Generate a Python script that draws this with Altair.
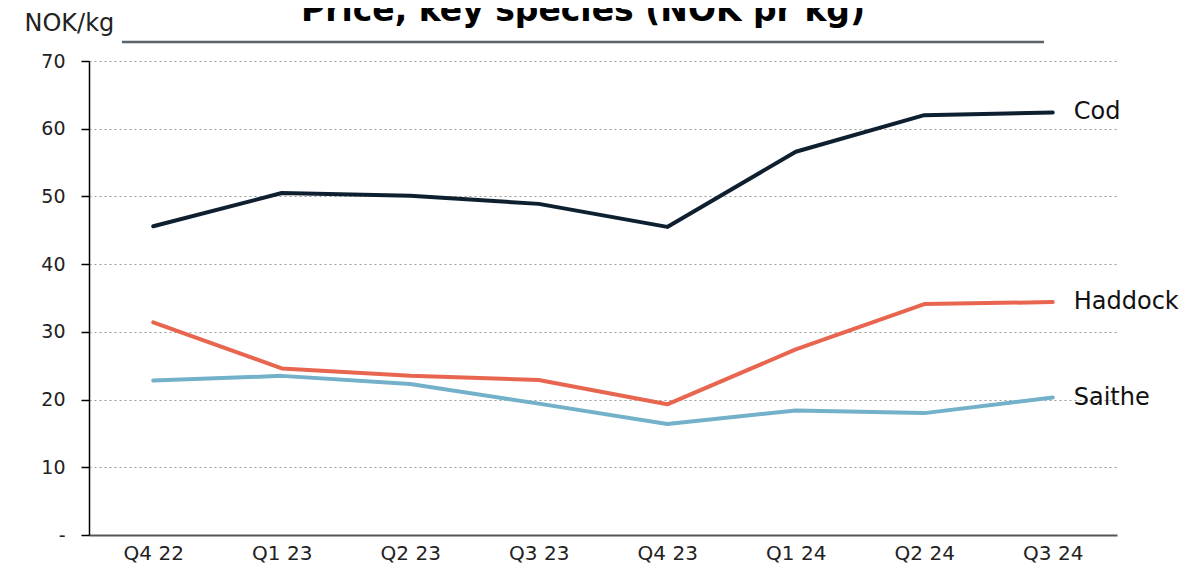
import altair as alt
import pandas as pd

quarters = ["Q4 22", "Q1 23", "Q2 23", "Q3 23", "Q4 23", "Q1 24", "Q2 24", "Q3 24"]
cod = [45.6, 50.5, 50.1, 48.9, 45.5, 56.6, 62.0, 62.4]
haddock = [31.4, 24.6, 23.5, 22.9, 19.3, 27.4, 34.1, 34.4]
saithe = [22.8, 23.5, 22.3, 19.4, 16.4, 18.4, 18.0, 20.3]
species = ["Cod", "Haddock", "Saithe"]
colors = ["#0e2030", "#e8664f", "#72b1c9"]
y_ticks = [0, 10, 20, 30, 40, 50, 60, 70]
title_text = "Price, key species (NOK pr kg)"

rows = []
for name, vals in zip(species, [cod, haddock, saithe]):
    for q, v in zip(quarters, vals):
        rows.append({"quarter": q, "price": v, "species": name})
df = pd.DataFrame(rows)
last = df[df["quarter"] == quarters[-1]]
single = pd.DataFrame({"title": [title_text]})

FONT = "DejaVu Sans"

x_enc = alt.X(
    "quarter:O",
    sort=quarters,
    scale=alt.Scale(type="point", padding=0.5),
    axis=alt.Axis(
        title=None, labelAngle=0, ticks=False, domainColor="#555555", domainWidth=2,
        labelFontSize=20, labelPadding=24, labelBaseline="alphabetic",
        labelColor="#222222", labelFont=FONT, grid=False,
    ),
)
y_enc = alt.Y(
    "price:Q",
    scale=alt.Scale(domain=[0, 70], nice=False),
    axis=alt.Axis(
        values=y_ticks, title="NOK/kg", titleAngle=0, titleX=-65, titleY=-38,
        titleAlign="left", titleBaseline="middle", titleFontWeight="normal",
        titleFontSize=24, titleFont=FONT, titleColor="#222222",
        labelExpr="datum.value == 0 ? '-\u2007\u2007' : datum.label",
        labelFontSize=19, labelFont=FONT, labelColor="#222222", labelPadding=16,
        tickSize=8, tickColor="#000000", tickWidth=1.5,
        domainColor="#000000", domainWidth=1.5,
        gridColor="#999999", gridDash=[2, 3], gridWidth=1,
    ),
)

color_enc = alt.Color(
    "species:N",
    scale=alt.Scale(domain=species, range=colors),
    legend=None,
)

lines = alt.Chart(df).mark_line(strokeWidth=4, strokeCap="round", strokeJoin="round").encode(
    x=x_enc, y=y_enc, color=color_enc
)

labels = alt.Chart(last).mark_text(
    align="left", baseline="middle", dx=21, fontSize=24, font=FONT, color="#111111"
).encode(
    x=alt.X("quarter:O", sort=quarters),
    y=alt.Y("price:Q"),
    text="species:N",
)

underline = alt.Chart(single).mark_rule(color="#59636b", strokeWidth=2.5).encode(
    x=alt.value(33), x2=alt.value(955), y=alt.value(-19)
)

title = alt.Chart(single).mark_text(
    align="center", baseline="alphabetic", fontSize=33, fontWeight="bold",
    font=FONT, color="#000000",
).encode(
    x=alt.value(494), y=alt.value(-40), text="title:N"
)

chart = alt.layer(lines, labels, underline, title).properties(
    width=1028,
    height=474,
    padding={"left": 81, "top": 53, "right": 76, "bottom": 29},
    autosize=alt.AutoSizeParams(type="none"),
).configure_view(stroke=None)

chart.save("out.html", embed_options={"renderer": "svg", "actions": False})
